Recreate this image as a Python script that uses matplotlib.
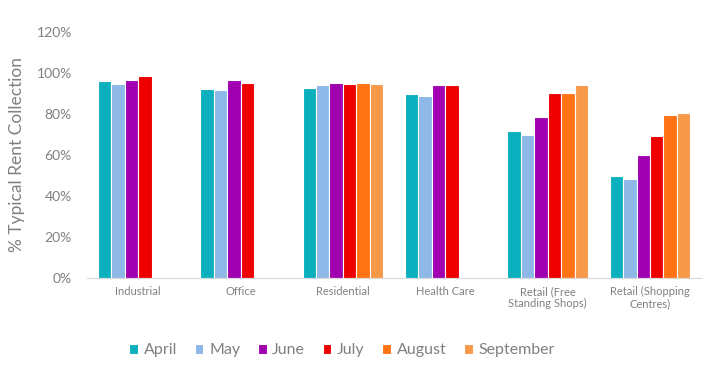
import matplotlib
matplotlib.use("Agg")
import matplotlib.pyplot as plt
import numpy as np

categories = ["Industrial", "Office", "Residential", "Health Care",
              "Retail (Free\nStanding Shops)", "Retail (Shopping\nCentres)"]
months = ["April", "May", "June", "July", "August", "September"]
april = [96.3, 92.4, 92.9, 89.5, 71.9, 49.5]
may = [94.8, 91.9, 93.9, 89.0, 69.5, 48.5]
june = [96.8, 96.8, 95.3, 93.9, 78.7, 60.2]
july = [98.7, 95.3, 94.8, 94.3, 90.4, 69.0]
august = [np.nan, np.nan, 95.3, np.nan, 90.0, 79.7]
september = [np.nan, np.nan, 94.8, np.nan, 93.9, 80.7]
series = [april, may, june, july, august, september]
colors = ["#0BB0BF", "#8DB8E8", "#A000B0", "#EE0000", "#FF7315", "#F8994A"]

plt.rcParams['font.family'] = ['Lato', 'DejaVu Sans']
gray = "#808080"

fig = plt.figure(figsize=(7.14, 3.72), dpi=100)
ax = fig.add_axes([0.122, 0.253, 0.86, 0.661])

x = np.arange(len(categories))
group = 0.79
w = group / len(series)
for i, (vals, c, m) in enumerate(zip(series, colors, months)):
    pos = x - group / 2 + w * (i + 0.5)
    ax.bar(pos, vals, width=w, color=c, edgecolor="white", linewidth=0.8, label=m)

ax.set_xlim(-0.5, len(categories) - 0.5)
ax.set_ylim(0, 120)
ax.set_yticks(range(0, 121, 20))
ax.set_yticklabels([f"{v}%" for v in range(0, 121, 20)], color=gray, fontsize=10)
ax.set_xticks(x)
ax.set_xticklabels(categories, color=gray, fontsize=8, linespacing=1.1)
ax.tick_params(axis='both', length=0)
ax.tick_params(axis='y', pad=11)
ax.tick_params(axis='x', pad=6)
for s in ["top", "right", "left"]:
    ax.spines[s].set_visible(False)
ax.spines["bottom"].set_color("#D9D9D9")
ax.set_ylabel("% Typical Rent Collection", color=gray, fontsize=12.5)
ax.yaxis.set_label_coords(-0.101, 0.5)

leg = fig.legend(loc="center", bbox_to_anchor=(0.479, 0.058), ncol=6, frameon=False,
                 fontsize=11.5, handlelength=0.55, handleheight=0.55, handletextpad=0.35,
                 columnspacing=1.1)
for t in leg.get_texts():
    t.set_color(gray)

fig.savefig("out.png", dpi=100)
